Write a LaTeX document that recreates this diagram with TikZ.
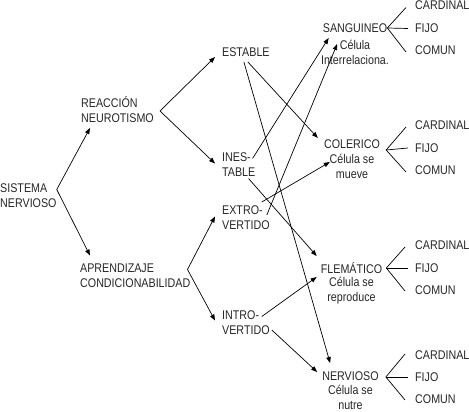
\documentclass[tikz,border=0pt]{standalone}
\usepackage{fontspec}
\setmainfont{Liberation Sans}[FakeStretch=0.85]
\usetikzlibrary{calc,arrows.meta}

\begin{document}
\begin{tikzpicture}[x=1pt, y=-1pt,
		txt/.style={inner sep=0pt, text=black!85, font=\fontsize{12.6}{15}\selectfont},
		lft/.style={txt, anchor=west, align=left},
		mid/.style={txt, align=center},
		arr/.style={line width=0.7pt, -{Triangle[length=6pt, width=4.5pt]}},
		fan/.style={line width=0.7pt}]
			%%%%% START %%%%%
			
			\useasboundingbox (0, 0) rectangle (469, 412);
			
			\node[lft] (sn) at (0, 195.5) {SISTEMA\\NERVIOSO};
			\node[lft] (reac) at (81, 110) {REACCIÓN\\NEUROTISMO};
			\node[lft] (apr) at (80, 275.5) {APRENDIZAJE\\CONDICIONABILIDAD};
			
			\node[lft] (est) at (222, 52) {ESTABLE};
			\node[lft] (ines) at (222, 164.5) {INES-\\TABLE};
			\node[lft] (extr) at (222, 217.5) {EXTRO-\\VERTIDO};
			\node[lft] (intr) at (222, 322.5) {INTRO-\\VERTIDO};
			
			\node[mid] (san) at (355, 28) {SANGUINEO};
			\node[mid] (sand) at (355, 52) {Célula\\Interrelaciona.};
			\node[mid] (col) at (352, 144) {COLERICO};
			\node[mid] (cold) at (352, 166) {Célula se\\mueve};
			\node[mid] (fle) at (351.5, 268) {FLEMÁTICO};
			\node[mid] (fled) at (351.5, 291) {Célula se\\reproduce};
			\node[mid] (ner) at (350.5, 376) {NERVIOSO};
			\node[mid] (nerd) at (350.5, 397.5) {Célula se\\nutre};
			
			\node[lft] (sanc) at (415, 5.5) {CARDINAL};
			\node[lft] (sanf) at (415, 28.5) {FIJO};
			\node[lft] (sanm) at (415, 50.5) {COMUN};
			\node[lft] (colc) at (415, 125) {CARDINAL};
			\node[lft] (colf) at (415, 148) {FIJO};
			\node[lft] (colm) at (415, 170.5) {COMUN};
			\node[lft] (flec) at (415, 245) {CARDINAL};
			\node[lft] (flef) at (415, 268) {FIJO};
			\node[lft] (flem) at (415, 290) {COMUN};
			\node[lft] (nerc) at (415, 355) {CARDINAL};
			\node[lft] (nerf) at (415, 377) {FIJO};
			\node[lft] (nerm) at (415, 399) {COMUN};
			
			\draw[arr] ($(sn.east)+(0,-6)$) -- ($(reac.west)+(9,18)$);
			\draw[arr] ($(sn.east)+(0,-6)$) -- ($(apr.west)+(10,-20)$);
			
			\draw[arr] ($(reac.east)+(6,1)$) -- ($(est.west)+(-7,5)$);
			\draw[arr] ($(reac.east)+(6,1)$) -- ($(ines.west)+(-7,-1)$);
			
			\draw[arr] ($(apr.east)+(-3,-6)$) -- ($(extr.west)+(-7,-1)$);
			\draw[arr] ($(apr.east)+(-3,-6)$) -- ($(intr.west)+(-7,-2)$);
			
			\draw[arr] ($(est.center)+(2,10)$) -- ($(col.west)+(-6,-6)$);
			\draw[arr] ($(est.center)+(-2,10)$) -- ($(ner.west)+(8,-13)$);
			
			\draw[arr] ($(ines.east)+(-3,-6)$) -- ($(san.west)+(6,10)$);
			\draw[arr] ($(ines.east)+(-7,14)$) -- ($(fle.west)+(-4,-12)$);
			
			\draw[arr] ($(extr.east)+(-3,-2.5)$) -- ($(san.west)+(14.5,16)$);
			\draw[arr] ($(extr.east)+(-8,-15.5)$) -- ($(col.west)+(6,18)$);
			
			\draw[arr] ($(intr.east)+(-8,-6)$) -- ($(fle.west)+(-4,9)$);
			\draw[arr] ($(intr.east)+(2,7.5)$) -- ($(ner.west)+(-5,-4)$);
			
			\draw[fan] ($(sanc.west)+(-9,2)$) -- (san.east) -- ($(sanm.west)+(-9,1.5)$);
			\draw[fan] (san.east) -- ($(sanf.west)+(-7,0)$);
			\draw[fan] ($(colc.west)+(-9,2)$) -- ($(col.east)+(6,6)$) -- ($(colm.west)+(-9,1.5)$);
			\draw[fan] ($(col.east)+(6,6)$) -- ($(colf.west)+(-7,0)$);
			\draw[fan] ($(flec.west)+(-10,2)$) -- ($(fle.east)+(4,0)$) -- ($(flem.west)+(-10,1)$);
			\draw[fan] ($(fle.east)+(4,0)$) -- ($(flef.west)+(-7,0)$);
			\draw[fan] ($(nerc.west)+(-10,-1)$) -- ($(ner.east)+(7,1)$) -- ($(nerm.west)+(-10,1)$);
			\draw[fan] ($(ner.east)+(7,1)$) -- ($(nerf.west)+(-7,0)$);
			
			%%%%% END %%%%%
		\end{tikzpicture}
\end{document}
